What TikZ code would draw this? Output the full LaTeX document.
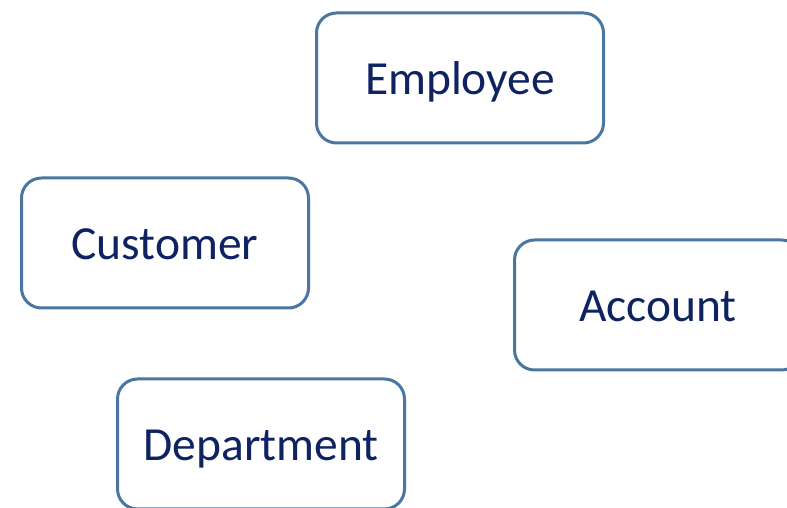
\documentclass[tikz,border=0pt]{standalone}
\usepackage{fontspec}
\setmainfont{Carlito}
\usepackage{tikz}
\usetikzlibrary{shapes, positioning}
\definecolor{boxblue}{HTML}{4A76A0}
\definecolor{textnavy}{HTML}{0F2262}
\tikzstyle{entity} = [draw=boxblue, fill=white, line width=3pt, rectangle, rounded corners=20pt, minimum width=287pt, minimum height=130pt, inner sep=0pt, text=textnavy, text height=34pt, text depth=0pt, font=\fontsize{47.5}{57}\selectfont]

\begin{document}
\begin{tikzpicture}[x=1pt, y=1pt]
	\useasboundingbox (0,0) rectangle (787,508);
	\node [entity] (employee) at (460,430) {Employee};
	\node [entity] (customer) at (165,265) {Customer};
	\node [entity] (account) at (658,203) {Account};
	\node [entity] (department) at (261,64) {Department};
\end{tikzpicture}
\end{document}
